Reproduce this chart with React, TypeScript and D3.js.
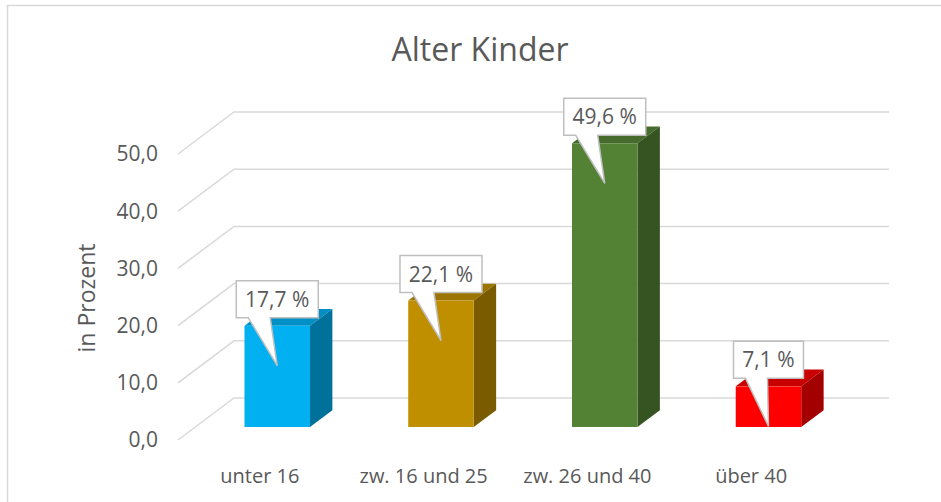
import React from 'react';
import * as d3 from 'd3';

// Daten aus dem Diagramm
const categories = ['unter 16', 'zw. 16 und 25', 'zw. 26 und 40', 'über 40'];
const values = [17.7, 22.1, 49.6, 7.1];
const yTicks = [0, 10, 20, 30, 40, 50];
const frontColors = ['#00B0F0', '#BF8F00', '#548235', '#FF0000'];
const sideColors = ['#00719B', '#7A5B00', '#365422', '#A30000'];
const topColors = ['#0090C6', '#9C7500', '#466B2C', '#C80000'];

const W = 941, H = 502;
const font = "'Open Sans', 'DejaVu Sans', sans-serif";
const textColor = '#595959';
const gridColor = '#d9d9d9';

// 3D Tiefe der Bodenfläche
const depthX = 56, depthY = -42;
const barFront = 0.31, barBack = 0.71;

const fmt = (v: number) => d3.format('.1f')(v).replace('.', ',');

export default function App() {
  const x = d3.scaleBand<string>()
    .domain(categories)
    .range([178, 833])
    .paddingInner(0.6)
    .paddingOuter(0.3);
  const y = d3.scaleLinear().domain([0, 50]).range([440, 154]);

  const fdx = depthX * barFront, fdy = depthY * barFront;
  const bdx = depthX * (barBack - barFront), bdy = depthY * (barBack - barFront);

  return (
    <svg width={W} height={H} style={{ position: 'absolute', left: 0, top: 0 }}>
      <rect x={0} y={0} width={W} height={H} fill="#fff" />
      <rect x={7.5} y={5.5} width={W + 20} height={H + 20} fill="none" stroke={gridColor} strokeWidth={1.5} />
      <text x={480} y={61} textAnchor="middle" fontFamily={font} fontSize={32} fill={textColor}>Alter Kinder</text>

      {/* Gitternetz: Seitenwand + Rückwand */}
      {yTicks.map(t => (
        <g key={t}>
          <path
            d={`M${178},${y(t)} L${178 + depthX},${y(t) + depthY} H${833 + depthX}`}
            fill="none" stroke={gridColor} strokeWidth={1.5} />
          <text x={158} y={y(t)} dy="0.35em" textAnchor="end" fontFamily={font} fontSize={21} fill={textColor}>{fmt(t)}</text>
        </g>
      ))}

      <text transform="translate(95,298) rotate(-90)" textAnchor="middle" fontFamily={font} fontSize={23} fill={textColor}>in Prozent</text>

      {categories.map((c, i) => {
        const x0 = (x(c) as number) + fdx;
        const x1 = x0 + x.bandwidth();
        const yb = y(0) + fdy;
        const yt = y(values[i]) + fdy;
        return (
          <g key={c}>
            <path d={`M${x0},${yt} H${x1} L${x1 + bdx},${yt + bdy} H${x0 + bdx} Z`} fill={topColors[i]} />
            <path d={`M${x1},${yt} L${x1 + bdx},${yt + bdy} V${yb + bdy} L${x1},${yb} Z`} fill={sideColors[i]} />
            <rect x={x0} y={yt} width={x1 - x0} height={yb - yt} fill={frontColors[i]} />
          </g>
        );
      })}

      {categories.map((c, i) => {
        const cx = (x(c) as number) + x.bandwidth() / 2;
        return (
          <text key={c} x={cx} y={483} textAnchor="middle" fontFamily={font} fontSize={20} fill={textColor}>{c}</text>
        );
      })}

      {/* Datenbeschriftungen als Legenden */}
      {categories.map((c, i) => {
        const cx = (x(c) as number) + fdx + x.bandwidth() / 2;
        const yt = y(values[i]) + fdy;
        const label = `${fmt(values[i])} %`;
        const w = label.length * 12 + 10;
        const left = cx - w / 2, right = cx + w / 2;
        const bottom = yt - 8, top = bottom - 37;
        const tipY = yt + 40;
        return (
          <g key={c}>
            <path
              d={`M${left},${top} H${right} V${bottom} H${left + 34} L${cx},${tipY} L${left + 12},${bottom} H${left} Z`}
              fill="#fff" stroke="#bfbfbf" strokeWidth={1.5} />
            <text x={cx} y={(top + bottom) / 2} dy="0.36em" textAnchor="middle" fontFamily={font} fontSize={21} fill={textColor}>{label}</text>
          </g>
        );
      })}
    </svg>
  );
}
